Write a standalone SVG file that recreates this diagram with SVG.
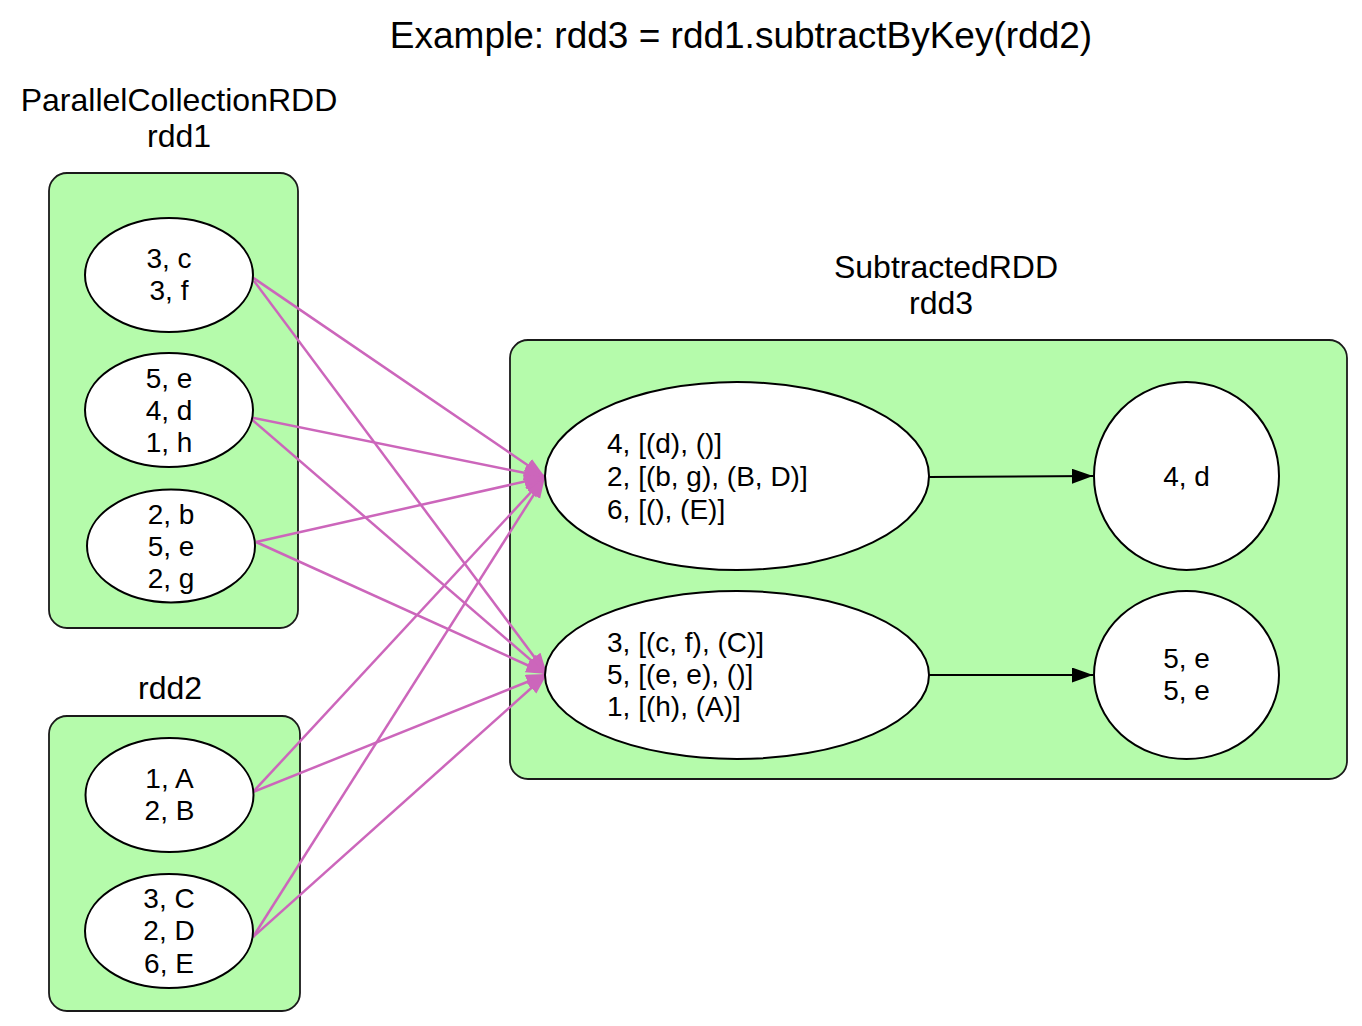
<svg xmlns="http://www.w3.org/2000/svg" width="1362" height="1026" viewBox="0 0 1362 1026">
<style>
text{font-family:"Liberation Sans",Arial,sans-serif;fill:#000}
.t{font-size:37px}
.cl{font-size:32px;text-anchor:middle}
.n{font-size:28px;text-anchor:middle}
.nl{font-size:28px;text-anchor:start}
.box{fill:#b5fbab;stroke:#1a1a1a;stroke-width:1.8}
.el{fill:#fff;stroke:#000;stroke-width:2}
.pe{stroke:#cc66bb;stroke-width:2.5;fill:none;marker-end:url(#pm)}
.be{stroke:#000;stroke-width:2;fill:none;marker-end:url(#bm)}
</style>
<defs>
<marker id="pm" markerUnits="userSpaceOnUse" markerWidth="22" markerHeight="16" refX="21" refY="7.5" orient="auto"><path d="M0,0 L21,7.5 L0,15 z" fill="#cc66bb"/></marker>
<marker id="bm" markerUnits="userSpaceOnUse" markerWidth="22" markerHeight="16" refX="21" refY="7.5" orient="auto"><path d="M0,0 L21,7.5 L0,15 z" fill="#000"/></marker>
</defs>
<rect width="1362" height="1026" fill="#fff"/>
<text class="t" x="741" y="48" text-anchor="middle">Example: rdd3 = rdd1.subtractByKey(rdd2)</text>

<g id="cluster_rdd1">
<text class="cl" x="179" y="111">ParallelCollectionRDD</text>
<text class="cl" x="179" y="147">rdd1</text>
<rect class="box" x="49" y="173" width="249" height="455" rx="18"/>
</g>
<g id="cluster_rdd2">
<text class="cl" x="170" y="699">rdd2</text>
<rect class="box" x="49" y="716" width="251" height="295" rx="18"/>
</g>
<g id="cluster_rdd3">
<text class="cl" x="946" y="278">SubtractedRDD</text>
<text class="cl" x="941" y="314">rdd3</text>
<rect class="box" x="510" y="340" width="837" height="439" rx="18"/>
</g>

<g id="connectors">
<line class="pe" x1="252" y1="277" x2="545" y2="477"/>
<line class="pe" x1="254" y1="281" x2="547" y2="674"/>
<line class="pe" x1="249" y1="417" x2="545" y2="477"/>
<line class="pe" x1="249" y1="417" x2="547" y2="674"/>
<line class="pe" x1="256" y1="542" x2="545" y2="477"/>
<line class="pe" x1="256" y1="542" x2="547" y2="674"/>
<line class="pe" x1="253" y1="792" x2="545" y2="477"/>
<line class="pe" x1="253" y1="792" x2="547" y2="674"/>
<line class="pe" x1="253" y1="937" x2="545" y2="477"/>
<line class="pe" x1="253" y1="937" x2="547" y2="674"/>
<line class="be" x1="929" y1="477" x2="1093" y2="476"/>
<line class="be" x1="929" y1="675" x2="1093" y2="675"/>
</g>

<g id="p1_0">
<ellipse class="el" cx="169" cy="275" rx="84" ry="57"/>
<text class="n" x="169" y="268">3, c</text>
<text class="n" x="169" y="300">3, f</text>
</g>
<g id="p1_1">
<ellipse class="el" cx="169" cy="410" rx="84" ry="57"/>
<text class="n" x="169" y="388">5, e</text>
<text class="n" x="169" y="420">4, d</text>
<text class="n" x="169" y="452">1, h</text>
</g>
<g id="p1_2">
<ellipse class="el" cx="171" cy="546" rx="84" ry="56.5"/>
<text class="n" x="171" y="524">2, b</text>
<text class="n" x="171" y="556">5, e</text>
<text class="n" x="171" y="588">2, g</text>
</g>
<g id="p2_0">
<ellipse class="el" cx="169.5" cy="795" rx="84" ry="57"/>
<text class="n" x="169.5" y="788">1, A</text>
<text class="n" x="169.5" y="820">2, B</text>
</g>
<g id="p2_1">
<ellipse class="el" cx="169" cy="931" rx="84" ry="57"/>
<text class="n" x="169" y="908">3, C</text>
<text class="n" x="169" y="940">2, D</text>
<text class="n" x="169" y="973">6, E</text>
</g>
<g id="p3a_0">
<ellipse class="el" cx="737" cy="476" rx="192" ry="94"/>
<text class="nl" x="607" y="453">4, [(d), ()]</text>
<text class="nl" x="607" y="486">2, [(b, g), (B, D)]</text>
<text class="nl" x="607" y="519">6, [(), (E)]</text>
</g>
<g id="p3a_1">
<ellipse class="el" cx="737" cy="675" rx="192" ry="84"/>
<text class="nl" x="607" y="652">3, [(c, f), (C)]</text>
<text class="nl" x="607" y="684">5, [(e, e), ()]</text>
<text class="nl" x="607" y="716">1, [(h), (A)]</text>
</g>
<g id="p3_0">
<ellipse class="el" cx="1186.5" cy="476" rx="92.5" ry="94"/>
<text class="n" x="1186.5" y="486">4, d</text>
</g>
<g id="p3_1">
<ellipse class="el" cx="1186.5" cy="675" rx="92.5" ry="84"/>
<text class="n" x="1186.5" y="668">5, e</text>
<text class="n" x="1186.5" y="700">5, e</text>
</g>
</svg>
